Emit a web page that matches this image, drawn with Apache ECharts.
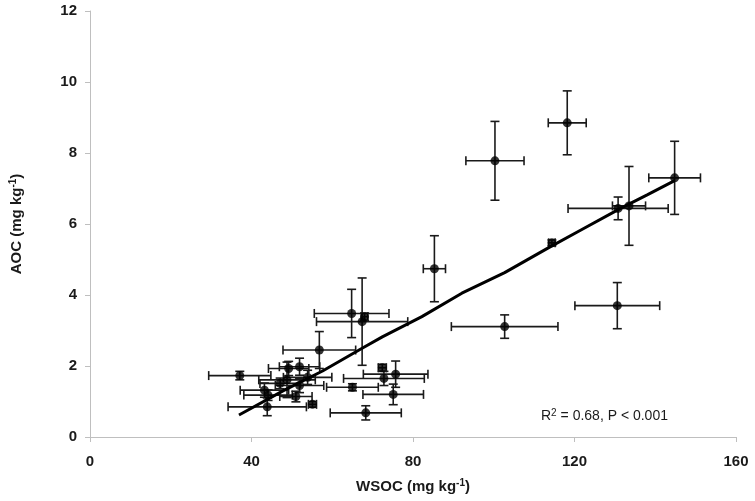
<!DOCTYPE html>
<html>
<head>
<meta charset="utf-8">
<script src="https://cdn.jsdelivr.net/npm/echarts@6/dist/echarts.min.js"></script>
<style>
html,body{margin:0;padding:0;background:#fff;}
#chart{width:755px;height:501px;}
</style>
</head>
<body>
<div id="chart"></div>
<script>
// Data
var wsoc    = [37.1, 43.2, 44.1, 43.9, 47.1, 48.8, 49.2, 51.9, 51.9, 51.0, 53.9, 55.1, 56.8, 64.8, 68.0, 67.4, 65.0, 68.3, 72.4, 72.8, 75.7, 75.1, 85.3, 100.3, 118.2, 114.4, 130.8, 133.5, 144.8, 102.7, 130.6];
var aoc     = [1.73, 1.32, 1.18, 0.85, 1.51, 1.61, 1.93, 1.98, 1.45, 1.14, 1.68, 0.92, 2.45, 3.48, 3.39, 3.25, 1.40, 0.68, 1.95, 1.65, 1.77, 1.20, 4.74, 7.78, 8.85, 5.47, 6.44, 6.51, 7.30, 3.11, 3.70];
var wsocErr = [7.7, 6.0, 6.0, 9.7, 5.0, 7.0, 5.0, 5.0, 6.0, 4.0, 6.0, 1.0, 9.0, 9.25, 0.8, 11.3, 6.4, 8.8, 1.0, 10.0, 8.0, 7.5, 2.75, 7.2, 4.7, 0.8, 12.4, 4.1, 6.4, 13.2, 10.5];
var aocErr  = [0.12, 0.2, 0.15, 0.25, 0.15, 0.5, 0.2, 0.24, 0.2, 0.15, 0.2, 0.08, 0.52, 0.68, 0.1, 1.23, 0.1, 0.2, 0.1, 0.2, 0.37, 0.29, 0.93, 1.11, 0.9, 0.08, 0.32, 1.11, 1.03, 0.33, 0.65];
var trendX  = [36.9, 47.8, 57.6, 67.4, 72.4, 82.2, 92.1, 102.7, 113.4, 121.6, 131.4, 138.0, 144.8];
var trendY  = [0.62, 1.30, 1.86, 2.50, 2.82, 3.39, 4.05, 4.63, 5.32, 5.83, 6.44, 6.82, 7.22];
var xTicks  = {min: 0, max: 160, interval: 40};
var yTicks  = {min: 0, max: 12, interval: 2};

var points = wsoc.map(function (x, i) { return [x, aoc[i]]; });
var errData = wsoc.map(function (x, i) { return [x, aoc[i], wsocErr[i], aocErr[i]]; });
var trend = trendX.map(function (x, i) { return [x, trendY[i]]; });

var chart = echarts.init(document.getElementById('chart'), null, {renderer: 'canvas'});
var FONT = 'Liberation Sans, Arial, sans-serif';
var barColor = '#1a1a1a';
var cap = 4.5;

function renderErr(params, api) {
  var x = api.value(0), y = api.value(1), xe = api.value(2), ye = api.value(3);
  var l = api.coord([x - xe, y]), r = api.coord([x + xe, y]);
  var t = api.coord([x, y + ye]), b = api.coord([x, y - ye]);
  var st = {stroke: barColor, lineWidth: 1.6, fill: null};
  return {
    type: 'group',
    children: [
      {type: 'line', shape: {x1: l[0], y1: l[1], x2: r[0], y2: r[1]}, style: st},
      {type: 'line', shape: {x1: l[0], y1: l[1] - cap, x2: l[0], y2: l[1] + cap}, style: st},
      {type: 'line', shape: {x1: r[0], y1: r[1] - cap, x2: r[0], y2: r[1] + cap}, style: st},
      {type: 'line', shape: {x1: t[0], y1: t[1], x2: b[0], y2: b[1]}, style: st},
      {type: 'line', shape: {x1: t[0] - cap, y1: t[1], x2: t[0] + cap, y2: t[1]}, style: st},
      {type: 'line', shape: {x1: b[0] - cap, y1: b[1], x2: b[0] + cap, y2: b[1]}, style: st}
    ]
  };
}

var nameRich = {
  a: {fontFamily: FONT, fontWeight: 'bold', fontSize: 15, color: '#1a1a1a'},
  s: {fontFamily: FONT, fontWeight: 'bold', fontSize: 10, color: '#1a1a1a', padding: [0, 0, 8, 0]}
};

var option = {
  backgroundColor: '#fff',
  animation: false,
  title: {
    text: 'R{s|2} = 0.68, P < 0.001',
    left: 536, top: 403,
    textStyle: {
      fontFamily: FONT, fontWeight: 'normal', fontSize: 14, color: '#1a1a1a',
      rich: {
        s: {fontFamily: FONT, fontSize: 10, color: '#1a1a1a', padding: [0, 0, 7, 0]}
      }
    }
  },
  grid: {left: 86, right: 19, top: 11, bottom: 64, containLabel: false},
  xAxis: {
    type: 'value', min: xTicks.min, max: xTicks.max, interval: xTicks.interval,
    name: '{a|WSOC (mg kg}{s|-1}{a|)}',
    nameLocation: 'middle', nameGap: 41,
    nameTextStyle: {rich: nameRich},
    axisLine: {show: true, lineStyle: {color: '#bfbfbf', width: 1}},
    axisTick: {show: true, length: 5, lineStyle: {color: '#bfbfbf'}},
    axisLabel: {fontFamily: FONT, fontWeight: 'bold', fontSize: 15, color: '#1a1a1a', margin: 17},
    splitLine: {show: false}
  },
  yAxis: {
    type: 'value', min: yTicks.min, max: yTicks.max, interval: yTicks.interval,
    name: '{a|AOC (mg kg}{s|-1}{a|)}',
    nameLocation: 'middle', nameGap: 64, nameRotate: 90,
    nameTextStyle: {rich: nameRich},
    axisLine: {show: true, lineStyle: {color: '#bfbfbf', width: 1}},
    axisTick: {show: true, length: 5, lineStyle: {color: '#bfbfbf'}},
    axisLabel: {fontFamily: FONT, fontWeight: 'bold', fontSize: 15, color: '#1a1a1a', margin: 13},
    splitLine: {show: false}
  },
  series: [
    {
      type: 'custom', name: 'err', renderItem: renderErr,
      data: errData, encode: {x: 0, y: 1}, z: 2, silent: true
    },
    {
      type: 'line', name: 'trend', data: trend, showSymbol: false, symbol: 'none',
      lineStyle: {color: '#000', width: 3}, z: 3, silent: true
    },
    {
      type: 'scatter', name: 'pts', data: points, symbol: 'circle', symbolSize: 9,
      itemStyle: {color: '#000'}, z: 4, silent: true
    }
  ]
};
chart.setOption(option);
</script>
</body>
</html>
